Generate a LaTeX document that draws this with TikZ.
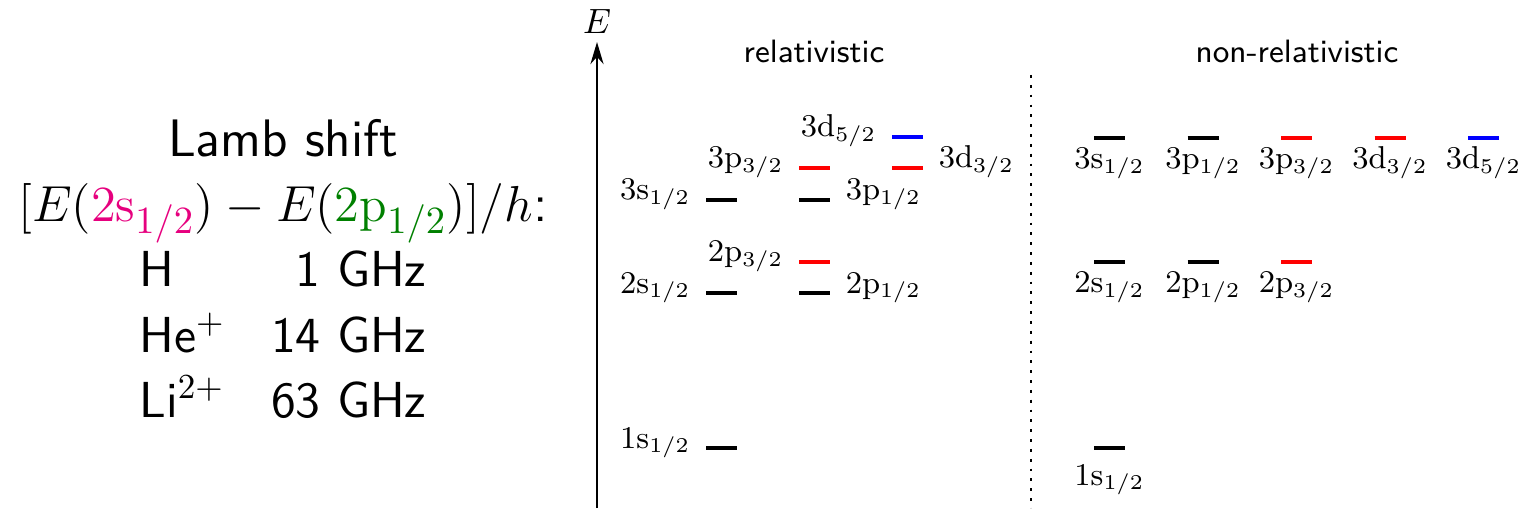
\documentclass[tikz,border=0pt]{standalone}
\usepackage{amsmath}
\usepackage{tikz}
\usetikzlibrary{arrows.meta, positioning}
\definecolor{spink}{RGB}{230,0,126}
\definecolor{sgreen}{RGB}{0,128,0}
\newcommand{\lvl}[3]{$#1\mathrm{#2}_{#3}$}
\tikzset{
  axis_style/.style={-{Stealth[length=2.2mm, width=1.3mm]}, thick, black},
  divider/.style={thick, dotted, black},
  level/.style={line width=1pt},
  lamb_text/.style={font=\fontsize{15}{18}\selectfont\sffamily, anchor=base},
  ion_text/.style={font=\Large\sffamily, anchor=base},
  head_text/.style={font=\fontsize{9.2}{11}\selectfont\sffamily, anchor=base},
  left_label/.style={anchor=base east, inner xsep=0.14cm, text=black, font=\small},
  right_label/.style={anchor=base west, inner xsep=0.14cm, text=black, font=\small},
  below_label/.style={midway, anchor=base, yshift=-0.306cm, text=black, font=\small}
}

\begin{document}
\begin{tikzpicture}
    \useasboundingbox (0,0) rectangle (15.22,5.08);

    % Lamb shift
    \node[lamb_text] (title) at (2.83, 3.51) {Lamb shift};
    \node[lamb_text, font=\fontsize{15.1}{18}\selectfont\sffamily] (shift) at (2.83, 2.86) {$[E(\textcolor{spink}{2\mathrm{s}_{1/2}}) - E(\textcolor{sgreen}{2\mathrm{p}_{1/2}})]/h$:};
    \foreach \ion/\freq [count=\i] in {H/1, He$^+$/14, Li$^{2+}$/63} {
      \node[ion_text] (ion\i) at (2.83, 2.86-0.65*\i) {\makebox[1.3cm][l]{\ion}\makebox[1.57cm][r]{\freq\ GHz}};
    }

    % Axes
    \coordinate (axis_bottom) at (5.97, 0);
    \coordinate (axis_top) at (5.97, 4.66);
    \draw[axis_style] (axis_bottom) -- (axis_top) node[above, inner sep=2pt] (E_label) {$E$};

    \coordinate (div_top) at (10.31, 4.33);
    \coordinate (div_bottom) at (10.31, 0);
    \draw[divider] (div_top) -- (div_bottom);

    \begin{scope}[local bounding box=relativistic]
      % Title
      \node[head_text] (rel_title) at (8.14, 4.45) {relativistic};

      % n = 1
      \draw[level] (7.06, 0.60) node[left_label] (rel_1s) {\lvl{1}{s}{1/2}} -- ++(0.31, 0);

      % n = 2
      \draw[level] (7.06, 2.15) node[left_label] (rel_2s) {\lvl{2}{s}{1/2}} -- ++(0.31, 0);
      \draw[level] (7.99, 2.15) -- ++(0.31, 0) node[right_label] (rel_2p1) {\lvl{2}{p}{1/2}};
      \draw[level, red] (7.99, 2.46) node[left_label] (rel_2p3) {\lvl{2}{p}{3/2}} -- ++(0.31, 0);

      % n = 3
      \draw[level] (7.06, 3.08) node[left_label] (rel_3s) {\lvl{3}{s}{1/2}} -- ++(0.31, 0);
      \draw[level] (7.99, 3.08) -- ++(0.31, 0) node[right_label] (rel_3p1) {\lvl{3}{p}{1/2}};
      \draw[level, red] (7.99, 3.40) node[left_label] (rel_3p3) {\lvl{3}{p}{3/2}} -- ++(0.31, 0);
      \draw[level, red] (8.92, 3.40) -- ++(0.31, 0) node[right_label] (rel_3d3) {\lvl{3}{d}{3/2}};
      \draw[level, blue] (8.92, 3.71) node[left_label] (rel_3d5) {\lvl{3}{d}{5/2}} -- ++(0.31, 0);
    \end{scope}

    \begin{scope}[local bounding box=nonrelativistic]
      % Title
      \node[head_text] (nonrel_title) at (12.97, 4.45) {non-relativistic};

      \draw[level] (10.94, 0.60) -- ++(0.31, 0) node[below_label, yshift=-0.064cm] (nonrel_1s) {\lvl{1}{s}{1/2}};

      \foreach \lbl/\clr [count=\i from 0] in {{\lvl{2}{s}{1/2}}/black, {\lvl{2}{p}{1/2}}/black, {\lvl{2}{p}{3/2}}/red} {
        \draw[level, \clr] (10.94+0.935*\i, 2.46) -- ++(0.31, 0) node[below_label] (nonrel_2_\i) {\lbl};
      }

      \foreach \lbl/\clr [count=\i from 0] in {{\lvl{3}{s}{1/2}}/black, {\lvl{3}{p}{1/2}}/black, {\lvl{3}{p}{3/2}}/red, {\lvl{3}{d}{3/2}}/red, {\lvl{3}{d}{5/2}}/blue} {
        \draw[level, \clr] (10.94+0.935*\i, 3.70) -- ++(0.31, 0) node[below_label] (nonrel_3_\i) {\lbl};
      }
    \end{scope}
\end{tikzpicture}
\end{document}
